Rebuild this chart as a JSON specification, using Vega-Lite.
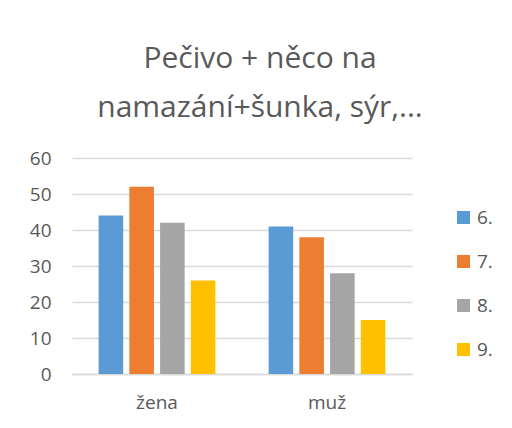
{
  "$schema": "https://vega.github.io/schema/vega-lite/v6.json",
  "autosize": "none",
  "width": 340,
  "height": 216,
  "padding": {"left": 72, "top": 158, "right": 100, "bottom": 54},
  "background": "white",
  "title": {
    "text": ["Pečivo + něco na", "namazání+šunka, sýr,..."],
    "font": "Open Sans",
    "fontSize": 30,
    "fontWeight": "normal",
    "color": "#595959",
    "lineHeight": 49,
    "anchor": "middle",
    "dx": 18,
    "offset": 26
  },
  "data": {
    "values": [
      {"pohlavi": "žena", "trida": "6.", "hodnota": 44},
      {"pohlavi": "žena", "trida": "7.", "hodnota": 52},
      {"pohlavi": "žena", "trida": "8.", "hodnota": 42},
      {"pohlavi": "žena", "trida": "9.", "hodnota": 26},
      {"pohlavi": "muž", "trida": "6.", "hodnota": 41},
      {"pohlavi": "muž", "trida": "7.", "hodnota": 38},
      {"pohlavi": "muž", "trida": "8.", "hodnota": 28},
      {"pohlavi": "muž", "trida": "9.", "hodnota": 15}
    ]
  },
  "mark": {"type": "bar"},
  "encoding": {
    "x": {
      "field": "pohlavi",
      "type": "nominal",
      "sort": ["žena", "muž"],
      "scale": {"paddingInner": 0.277, "paddingOuter": 0.1385},
      "axis": {
        "title": null,
        "labelAngle": 0,
        "labelFont": "Open Sans",
        "labelFontSize": 19,
        "labelColor": "#595959",
        "labelPadding": 19,
        "ticks": false,
        "domainColor": "#D9D9D9",
        "domainWidth": 1.5
      }
    },
    "xOffset": {
      "field": "trida",
      "type": "nominal",
      "scale": {"paddingInner": 0.2, "paddingOuter": 0.1}
    },
    "y": {
      "field": "hodnota",
      "type": "quantitative",
      "scale": {"domain": [0, 60]},
      "axis": {
        "title": null,
        "values": [0, 10, 20, 30, 40, 50, 60],
        "labelFont": "Open Sans",
        "labelFontSize": 19,
        "labelColor": "#595959",
        "labelPadding": 21,
        "ticks": false,
        "domain": false,
        "gridColor": "#D9D9D9",
        "gridWidth": 1.5
      }
    },
    "color": {
      "field": "trida",
      "type": "nominal",
      "scale": {
        "domain": ["6.", "7.", "8.", "9."],
        "range": ["#5B9BD5", "#ED7D31", "#A5A5A5", "#FFC000"]
      },
      "legend": {
        "title": null,
        "orient": "none",
        "legendX": 382,
        "legendY": 50,
        "symbolType": "square",
        "symbolSize": 169,
        "symbolStrokeWidth": 0,
        "symbolOpacity": 1,
        "labelFont": "Open Sans",
        "labelFontSize": 19,
        "labelColor": "#595959",
        "labelOffset": 4,
        "rowPadding": 24
      }
    }
  },
  "config": {"view": {"stroke": null}}
}
